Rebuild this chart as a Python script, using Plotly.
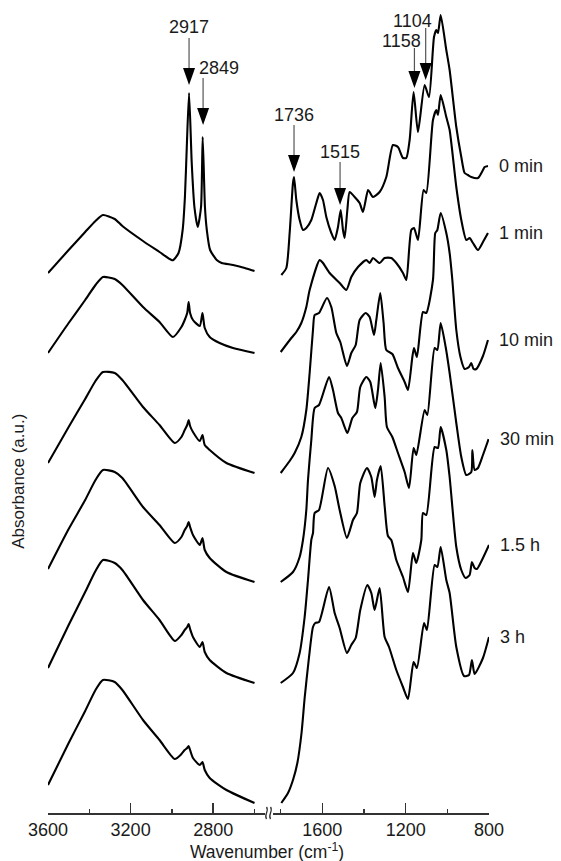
import plotly.graph_objects as go

# ---------------- data ----------------
sample_labels = ["0 min", "1 min", "10 min", "30 min", "1.5 h", "3 h"]

wn_0min = [3600, 3500, 3420, 3370, 3334, 3277, 3240, 3140, 3060, 3002, 2993, 2968, 2948, 2937, 2928,
           2917, 2904, 2891, 2875, 2859, 2851, 2840, 2831, 2815, 2783, 2759, 2704, 2647, 2600,
           1797, 1773, 1757, 1741, 1736, 1725, 1709, 1693, 1677, 1653, 1629, 1613, 1597, 1581, 1557,
           1541, 1525, 1512, 1501, 1493, 1480, 1469, 1445, 1421, 1405, 1381, 1373, 1357, 1325, 1293,
           1261, 1237, 1213, 1197, 1181, 1162, 1141, 1109, 1088, 1064, 1053, 1045, 1032, 1005, 989,
           957, 933, 917, 901, 885, 853, 829, 821, 805]
abs_0min = [5.40, 5.63, 5.81, 5.92, 5.98, 5.94, 5.87, 5.72, 5.61, 5.53, 5.53, 5.60, 5.83, 6.16, 6.66,
            7.20, 6.50, 6.06, 5.86, 6.06, 6.76, 6.06, 5.83, 5.63, 5.53, 5.50, 5.48, 5.45, 5.42,
            5.38, 5.45, 5.80, 6.30, 6.36, 6.13, 5.93, 5.83, 5.85, 5.93, 6.10, 6.20, 6.13, 5.96, 5.80,
            5.73, 5.86, 6.03, 5.83, 5.75, 6.03, 6.21, 6.16, 6.10, 6.01, 6.23, 6.21, 6.16, 6.21, 6.36,
            6.68, 6.66, 6.55, 6.55, 6.73, 7.21, 6.81, 7.28, 7.16, 7.76, 7.83, 7.80, 7.98, 7.63, 7.43,
            6.86, 6.56, 6.40, 6.38, 6.36, 6.35, 6.43, 6.46, 6.47]

wn_1min = [3600, 3500, 3420, 3370, 3334, 3277, 3240, 3140, 3060, 2995, 2954, 2938, 2926, 2919, 2912,
           2898, 2865, 2852, 2841, 2817, 2769, 2704, 2600,
           1800, 1749, 1725, 1701, 1677, 1661, 1613, 1597, 1565, 1517, 1485, 1461, 1429, 1389, 1373,
           1357, 1325, 1301, 1269, 1245, 1213, 1197, 1173, 1160, 1141, 1114, 1101, 1069, 1053, 1045,
           1032, 1005, 989, 957, 933, 909, 893, 877, 853, 829, 805]
abs_1min = [4.60, 4.90, 5.13, 5.28, 5.36, 5.34, 5.28, 5.06, 4.91, 4.76, 4.86, 4.93, 5.00, 5.11, 5.00,
            4.93, 4.87, 5.00, 4.85, 4.76, 4.70, 4.65, 4.60,
            4.61, 4.75, 4.81, 4.90, 5.06, 5.23, 5.53, 5.50, 5.40, 5.30, 5.23, 5.36, 5.46, 5.53, 5.50,
            5.55, 5.50, 5.55, 5.55, 5.50, 5.40, 5.33, 5.83, 5.85, 5.73, 6.23, 6.20, 6.93, 7.03, 6.98,
            7.18, 6.96, 6.83, 6.26, 5.93, 5.73, 5.75, 5.70, 5.63, 5.71, 5.80]

wn_10min = [3600, 3500, 3420, 3370, 3334, 3277, 3240, 3140, 3060, 2986, 2954, 2938, 2926, 2919, 2912,
            2898, 2865, 2852, 2841, 2817, 2736, 2600,
            1800, 1757, 1733, 1701, 1677, 1661, 1645, 1637, 1616, 1578, 1557, 1533, 1514, 1482, 1461,
            1440, 1421, 1392, 1373, 1352, 1341, 1322, 1306, 1293, 1264, 1237, 1205, 1189, 1168, 1160,
            1146, 1117, 1101, 1069, 1058, 1048, 1032, 1005, 989, 976, 957, 937, 917, 896, 885, 874,
            861, 829, 805]
abs_10min = [3.50, 3.86, 4.14, 4.32, 4.41, 4.40, 4.33, 4.06, 3.88, 3.70, 3.76, 3.83, 3.88, 3.93, 3.87,
             3.81, 3.72, 3.78, 3.68, 3.63, 3.50, 3.40,
             3.40, 3.52, 3.60, 3.76, 4.03, 4.40, 4.83, 4.98, 5.00, 5.15, 5.06, 4.80, 4.71, 4.47, 4.60,
             4.68, 4.93, 5.00, 4.96, 4.78, 4.93, 5.20, 4.90, 4.63, 4.59, 4.45, 4.31, 4.23, 4.56, 4.65,
             4.56, 5.01, 5.00, 5.33, 5.80, 5.83, 6.00, 5.80, 5.60, 5.33, 4.83, 4.56, 4.44, 4.46, 4.50,
             4.44, 4.44, 4.57, 4.73]

wn_30min = [3600, 3500, 3420, 3370, 3334, 3277, 3240, 3140, 3060, 2986, 2954, 2938, 2926, 2919, 2912,
            2898, 2865, 2852, 2841, 2817, 2736, 2600,
            1800, 1741, 1709, 1693, 1677, 1669, 1653, 1637, 1616, 1568, 1549, 1525, 1509, 1480, 1456,
            1434, 1418, 1389, 1370, 1346, 1333, 1320, 1301, 1290, 1264, 1237, 1205, 1184, 1162, 1149,
            1109, 1096, 1061, 1048, 1032, 1008, 989, 957, 933, 909, 885, 880, 869, 853, 829, 802]
abs_30min = [2.44, 2.84, 3.13, 3.33, 3.43, 3.41, 3.35, 3.06, 2.88, 2.70, 2.76, 2.83, 2.87, 2.91, 2.86,
             2.78, 2.68, 2.75, 2.63, 2.55, 2.41, 2.31,
             2.31, 2.41, 2.56, 2.73, 3.03, 3.33, 3.73, 4.05, 4.08, 4.36, 4.23, 4.00, 3.95, 3.80, 3.95,
             4.01, 4.26, 4.36, 4.31, 4.05, 4.23, 4.50, 4.16, 3.86, 3.76, 3.60, 3.41, 3.25, 3.65, 3.58,
             4.03, 3.98, 4.65, 4.63, 4.90, 4.66, 4.40, 3.90, 3.56, 3.38, 3.41, 3.63, 3.43, 3.45, 3.58, 3.74]

wn_1h5 = [3600, 3500, 3420, 3370, 3334, 3277, 3240, 3140, 3060, 2986, 2954, 2938, 2926, 2919, 2912,
          2898, 2865, 2852, 2841, 2817, 2736, 2600,
          1800, 1741, 1709, 1685, 1669, 1653, 1645, 1637, 1616, 1573, 1541, 1517, 1482, 1453, 1434,
          1418, 1386, 1365, 1349, 1338, 1320, 1301, 1285, 1269, 1245, 1213, 1189, 1165, 1149, 1125,
          1117, 1101, 1061, 1045, 1032, 1005, 989, 957, 933, 912, 893, 882, 869, 858, 829, 800]
abs_1h5 = [1.45, 1.88, 2.21, 2.42, 2.53, 2.50, 2.43, 2.13, 1.93, 1.72, 1.78, 1.83, 1.86, 1.89, 1.84,
           1.76, 1.66, 1.71, 1.61, 1.53, 1.40, 1.30,
           1.30, 1.40, 1.60, 1.96, 2.33, 2.73, 2.80, 3.00, 3.03, 3.45, 3.27, 3.03, 2.75, 2.93, 3.00,
           3.30, 3.45, 3.36, 3.16, 3.33, 3.47, 3.07, 2.77, 2.73, 2.53, 2.36, 2.21, 2.60, 2.50, 2.73,
           3.00, 2.98, 3.66, 3.65, 3.86, 3.63, 3.36, 2.66, 2.43, 2.35, 2.38, 2.51, 2.45, 2.44, 2.55, 2.68]

wn_3h = [3600, 3500, 3420, 3370, 3334, 3277, 3240, 3140, 3060, 2986, 2954, 2938, 2926, 2919, 2912,
         2898, 2865, 2852, 2841, 2817, 2736, 2600,
         1797, 1765, 1741, 1720, 1700, 1685, 1664, 1645, 1634, 1616, 1568, 1541, 1517, 1482, 1461,
         1440, 1418, 1384, 1365, 1349, 1325, 1301, 1280, 1245, 1213, 1189, 1162, 1146, 1112, 1098,
         1061, 1048, 1032, 1005, 989, 957, 920, 896, 882, 869, 829, 800]
abs_3h = [0.28, 0.70, 1.02, 1.23, 1.33, 1.31, 1.23, 0.93, 0.73, 0.54, 0.59, 0.63, 0.65, 0.67, 0.63,
          0.55, 0.48, 0.51, 0.43, 0.35, 0.23, 0.10,
          0.10, 0.20, 0.33, 0.50, 0.80, 1.15, 1.56, 1.86, 1.90, 1.91, 2.26, 2.00, 1.85, 1.60, 1.68,
          1.75, 2.03, 2.28, 2.20, 2.03, 2.25, 1.76, 1.66, 1.43, 1.26, 1.14, 1.51, 1.45, 1.90, 1.83,
          2.48, 2.46, 2.66, 2.33, 2.20, 1.66, 1.37, 1.38, 1.53, 1.39, 1.55, 1.76]

peak_labels = ["2917", "2849", "1736", "1515", "1158", "1104"]
peak_wavenumbers = [2917, 2849, 1736, 1515, 1158, 1104]

x_ticks_left = [3600, 3200, 2800]
x_ticks_right = [1600, 1200, 800]

wavenumbers = [wn_0min, wn_1min, wn_10min, wn_30min, wn_1h5, wn_3h]
absorbances = [abs_0min, abs_1min, abs_10min, abs_30min, abs_1h5, abs_3h]

# ---------------- styling / layout ----------------
FONT = "Liberation Sans, Arial, sans-serif"
TXT = "#1a1a1a"
AX = "#333333"
BREAK_WN = 2200  # split between the two axis segments

fig = go.Figure()

for wn, ab, lab in zip(wavenumbers, absorbances, sample_labels):
    lx = [w for w in wn if w > BREAK_WN]
    ly = [a for w, a in zip(wn, ab) if w > BREAK_WN]
    rx = [w for w in wn if w <= BREAK_WN]
    ry = [a for w, a in zip(wn, ab) if w <= BREAK_WN]
    style = dict(color="black", width=2.1, shape="spline", smoothing=0.6)
    fig.add_trace(go.Scatter(x=lx, y=ly, mode="lines", line=style, xaxis="x", yaxis="y",
                             showlegend=False, hoverinfo="skip"))
    fig.add_trace(go.Scatter(x=rx, y=ry, mode="lines", line=style, xaxis="x2", yaxis="y",
                             showlegend=False, hoverinfo="skip"))
    fig.add_annotation(x=rx[-1], y=ry[-1], xref="x2", yref="y", text=lab, showarrow=False,
                       xanchor="left", yanchor="middle", xshift=9,
                       font=dict(family=FONT, size=18, color=TXT))

# peak arrows: (tip height, shaft length px, text dx px, text dy px)
arrow_cfg = {
    "2917": (7.28, 47, 0, 58),
    "2849": (6.88, 47, 16, 57),
    "1736": (6.41, 47, 0, 57),
    "1515": (6.08, 43, 0, 53),
    "1158": (7.25, 40, -13, 47),
    "1104": (7.33, 52, -13, 59),
}
for lab, wnp in zip(peak_labels, peak_wavenumbers):
    tip, length, dx, dy = arrow_cfg[lab]
    xr = "x" if wnp > BREAK_WN else "x2"
    fig.add_shape(type="path", xref=xr, yref="y", xsizemode="pixel", ysizemode="pixel",
                  xanchor=wnp, yanchor=tip, path=f"M0,15 L0,{length}",
                  line=dict(color="#555555", width=1.2))
    fig.add_shape(type="path", xref=xr, yref="y", xsizemode="pixel", ysizemode="pixel",
                  xanchor=wnp, yanchor=tip, path="M0,0 L-6,17 L6,17 Z",
                  fillcolor="black", line=dict(width=0))
    fig.add_annotation(x=wnp, y=tip, xref=xr, yref="y", text=lab, showarrow=False,
                       xshift=dx, yshift=dy, xanchor="center", yanchor="middle",
                       font=dict(family=FONT, size=18, color=TXT))

axis_common = dict(
    showline=True, linecolor=AX, linewidth=1.5, mirror=False,
    ticks="inside", ticklen=10, tickwidth=1.5, tickcolor=AX,
    tickfont=dict(family=FONT, size=18, color=TXT),
    showgrid=False, zeroline=False, anchor="y", fixedrange=True, automargin=False,
    minor=dict(dtick=200, ticks="inside", ticklen=4, tickwidth=1.5, tickcolor=AX, showgrid=False),
)
fig.update_layout(
    template="none",
    width=561, height=861,
    margin=dict(l=48, r=72, t=10, b=48, autoexpand=False),
    paper_bgcolor="white", plot_bgcolor="white",
    font=dict(family=FONT, color=TXT),
    xaxis=dict(domain=[0, 0.4917], range=[3600, 2550], tickvals=x_ticks_left,
               ticktext=[str(v) for v in x_ticks_left], **axis_common),
    xaxis2=dict(domain=[0.5097, 1], range=[1838, 800], tickvals=x_ticks_right,
                ticktext=[str(v) for v in x_ticks_right], **axis_common),
    yaxis=dict(range=[0, 8.03], visible=False, fixedrange=True, automargin=False),
)

# axis break mark
fig.add_shape(type="path", xref="paper", yref="paper", xsizemode="pixel", ysizemode="pixel",
              xanchor=0.5023, yanchor=0,
              path="M-3,-6 C-6,-2 0,2 -3,6 M1,-6 C-2,-2 4,2 1,6",
              line=dict(color=AX, width=1.3))

# axis titles
fig.add_annotation(x=0.497, y=-0.047, xref="paper", yref="paper", showarrow=False,
                   text="Wavenumber (cm<sup>-1</sup>)", xanchor="center", yanchor="middle",
                   font=dict(family=FONT, size=17.5, color=TXT))
fig.add_annotation(x=-0.067, y=0.413, xref="paper", yref="paper", showarrow=False,
                   text="Absorbance (a.u.)", textangle=-90, xanchor="center", yanchor="middle",
                   font=dict(family=FONT, size=17, color=TXT))

fig.write_html(
    "out.html",
    config={"displayModeBar": False, "staticPlot": True},
    post_script="document.body.style.margin='0';document.body.style.padding='0';"
                "document.documentElement.style.overflow='hidden';",
)
